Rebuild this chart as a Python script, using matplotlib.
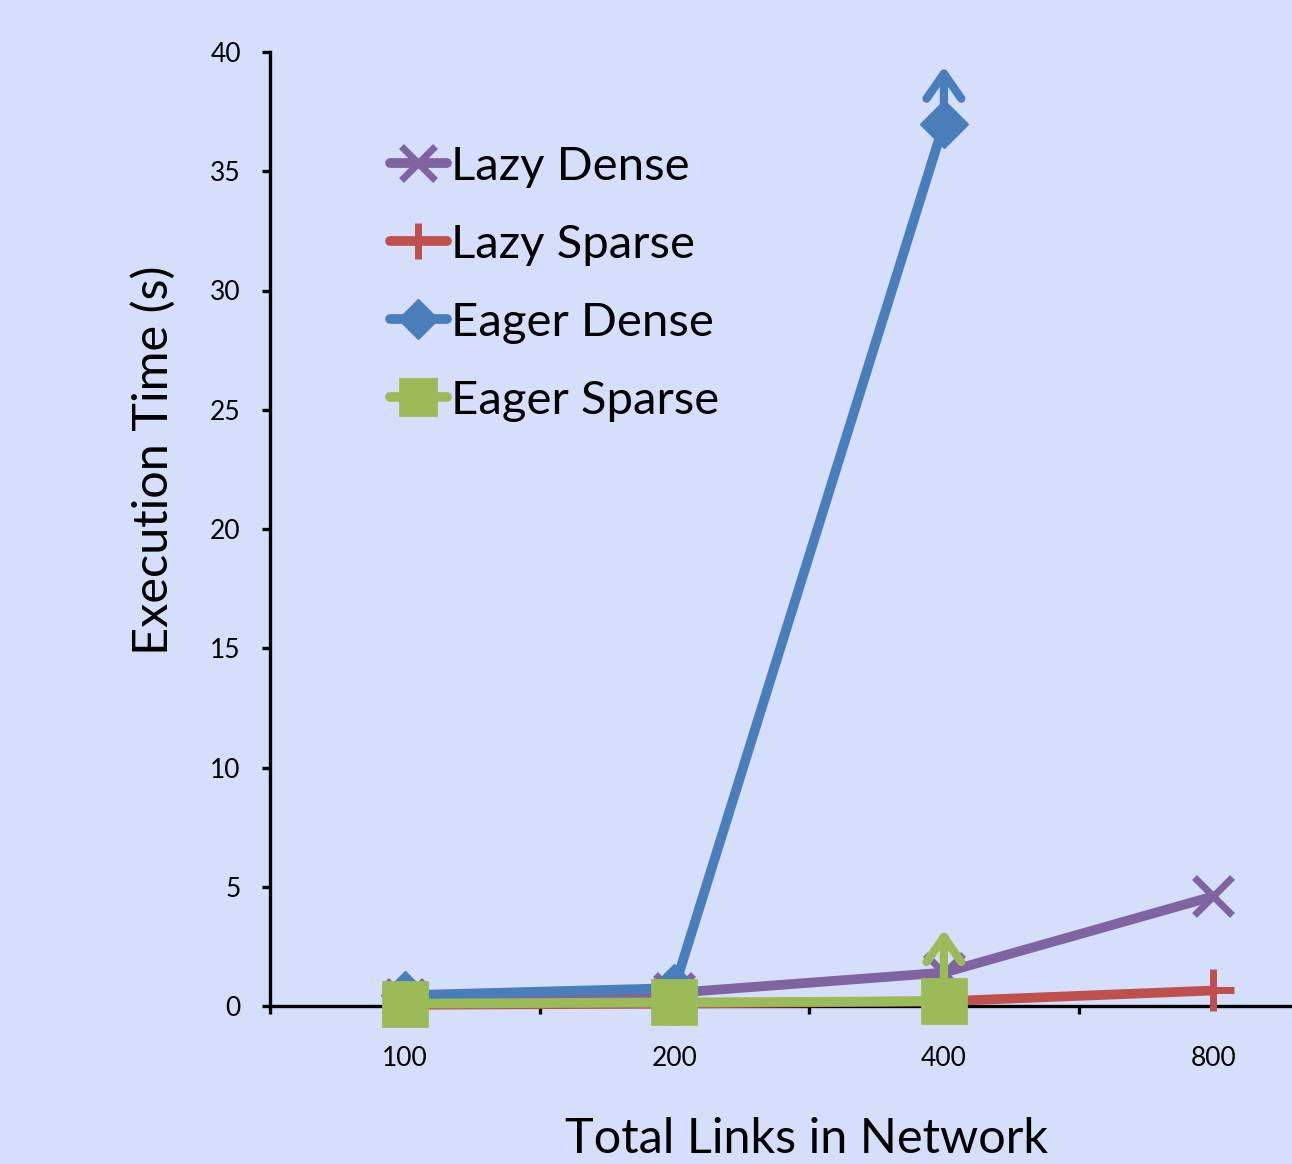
import numpy as np
import matplotlib.pyplot as plt

plt.rcParams['font.family'] = ['Lato', 'DejaVu Sans']

# links in network (categorical x axis)
links = ['100', '200', '400', '800']

# execution time in seconds per strategy
lazy_dense = [0.3, 0.55, 1.4, 4.6]
lazy_sparse = [0.05, 0.1, 0.2, 0.65]
eager_dense = [0.45, 0.75, 37.0]
eager_sparse = [0.1, 0.15, 0.2]

# runs that did not finish: arrow from last value up to this bound
eager_dense_bound = 39.4
eager_sparse_bound = 3.2

bg = '#D5DFFC'
purple = '#8064A2'
red = '#C0504D'
blue = '#4A7EBB'
green = '#9BBB59'

W, H = 1292, 1164
fig = plt.figure(figsize=(W / 100, H / 100), dpi=100, facecolor=bg)
ax = fig.add_axes([270 / W, (H - 1006) / H, (W - 270) / W, (1006 - 52) / H])
ax.set_facecolor(bg)

x = np.arange(len(links))
lw = 7

ax.plot(x, lazy_dense, color=purple, lw=lw, marker='x', ms=28, mew=5,
        label='Lazy Dense', solid_capstyle='round', clip_on=False)
ax.plot(x, lazy_sparse, color=red, lw=lw, marker='+', ms=30, mew=5,
        label='Lazy Sparse', solid_capstyle='round', clip_on=False)
ax.plot(x[:3], eager_dense, color=blue, lw=lw, marker='D', ms=24,
        label='Eager Dense', solid_capstyle='round', clip_on=False)
ax.plot(x[:3], eager_sparse, color=green, lw=lw, marker='s', ms=31,
        label='Eager Sparse', solid_capstyle='round', clip_on=False,
        markeredgewidth=2, markeredgecolor=green)

# lower-bound arrows on the unfinished runs
for val, top, col in [(eager_dense[2], eager_dense_bound, blue),
                      (eager_sparse[2], eager_sparse_bound, green)]:
    ax.annotate('', xy=(2, top), xytext=(2, val),
                arrowprops=dict(arrowstyle='->,head_length=1.8,head_width=1.25',
                                color=col, lw=6, capstyle='round',
                                joinstyle='round', shrinkA=0, shrinkB=0),
                zorder=5)

ax.set_xlim(-0.5, (W - 405) / 269.5)
ax.set_ylim(0, 40)
ax.set_yticks(np.arange(0, 41, 5))
ax.set_xticks(x)
ax.set_xticklabels(links)
ax.set_xticks([-0.5, 0.5, 1.5, 2.5], minor=True)

for s in ['top', 'right']:
    ax.spines[s].set_visible(False)
for s in ['left', 'bottom']:
    ax.spines[s].set_linewidth(2.4)
    ax.spines[s].set_zorder(1)

ax.tick_params(axis='x', which='major', length=0, pad=29, labelsize=19)
ax.tick_params(axis='x', which='minor', length=6, width=2.4, direction='out')
ax.tick_params(axis='y', length=6, width=2.4, direction='out', pad=15, labelsize=19)

ax.set_ylabel('Execution Time (s)', fontsize=35)
ax.yaxis.set_label_coords(-0.092, 0.572)
ax.set_xlabel('Total Links in Network', fontsize=35)
ax.xaxis.set_label_coords(0.525, -0.116)

leg = ax.legend(loc='upper left', bbox_to_anchor=(390 / W, 1 - 146 / H),
                bbox_transform=fig.transFigure, frameon=False, fontsize=34,
                handlelength=1.2, handletextpad=0.1, labelspacing=0.76,
                borderaxespad=0, borderpad=0, markerscale=0.85)

fig.savefig('out.png', dpi=100, facecolor=bg)
